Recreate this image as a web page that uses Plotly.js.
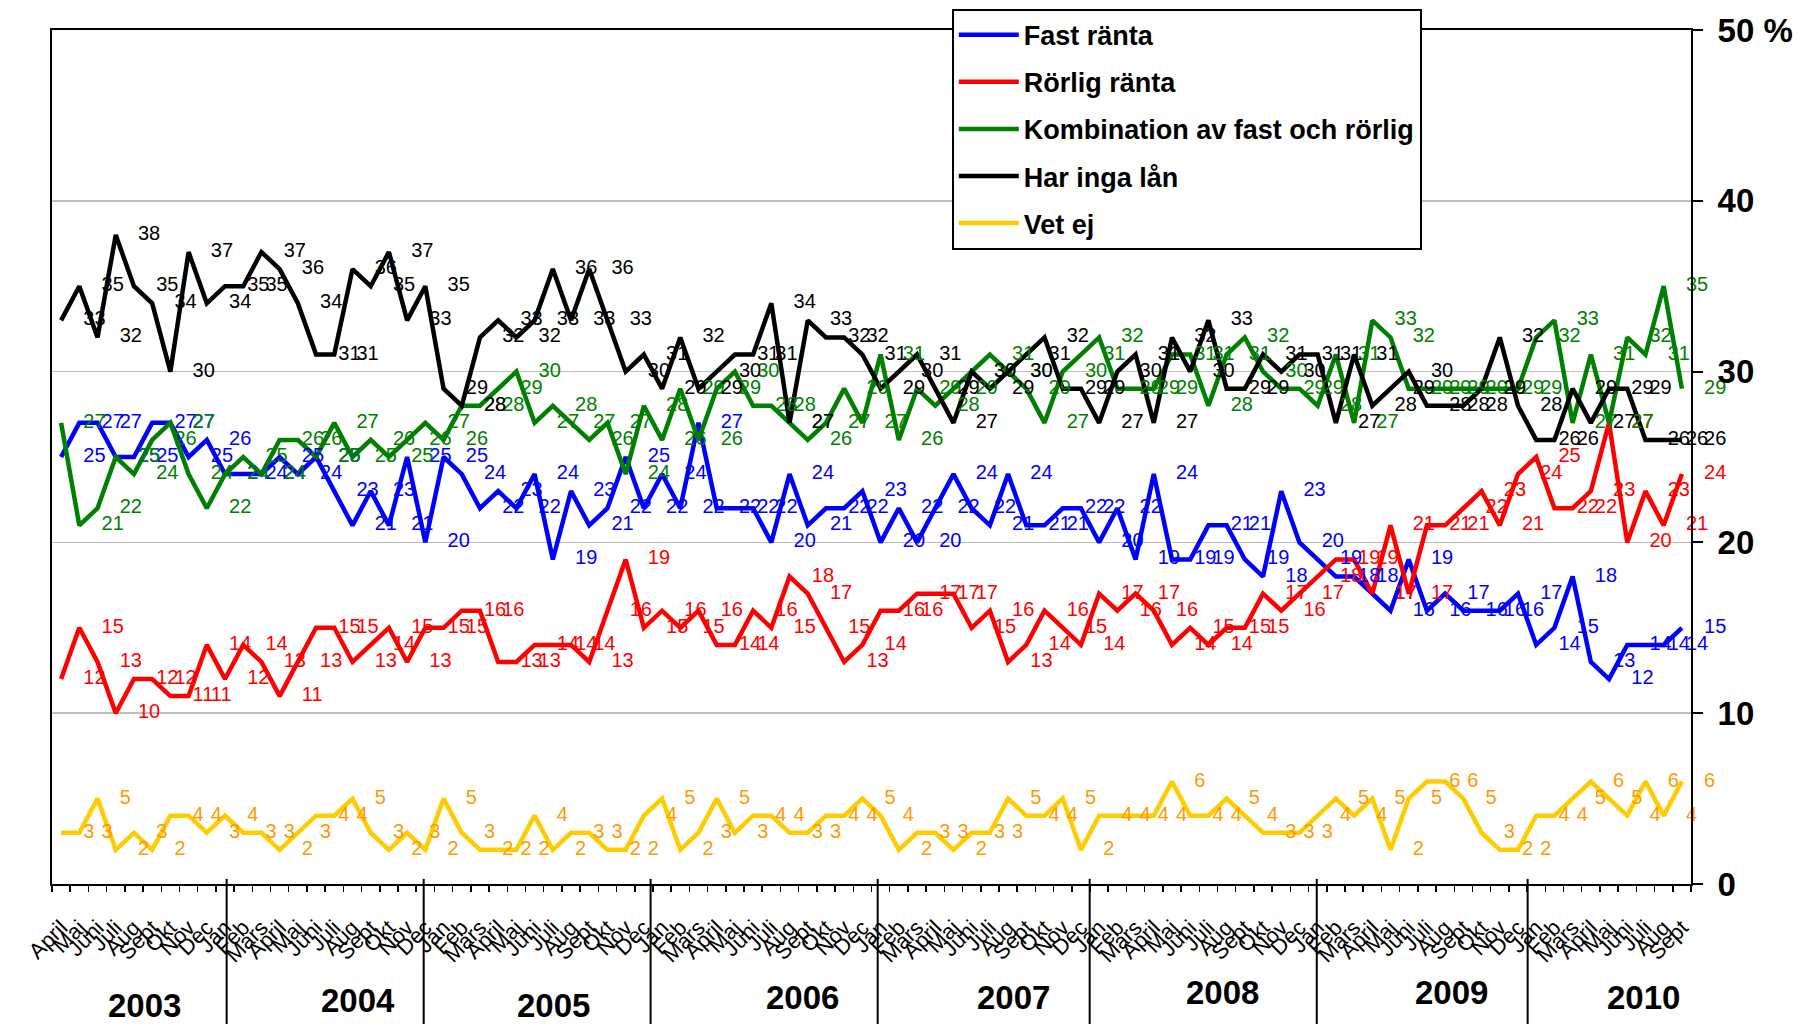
<!DOCTYPE html>
<html><head><meta charset="utf-8">
<script src="https://cdn.plot.ly/plotly-3.0.1.min.js"></script>
<style>html,body{margin:0;padding:0;background:#fff;} #chart{width:1798px;height:1024px;}</style>
</head><body><div id="chart"></div>
<script>
// Month tick labels, April 2003 .. Sept 2010
const monthLabels = [
 'April','Maj','Juni','Juli','Aug','Sept','Okt','Nov','Dec',
 'Jan','Feb','Mars','April','Maj','Juni','Juli','Aug','Sept','Okt','Nov','Dec',
 'Jan','Feb','Mars','April','Maj','Juni','Juli','Aug','Sept','Okt','Nov','Dec',
 'Jan','Feb','Mars','April','Maj','Juni','Juli','Aug','Sept','Okt','Nov','Dec',
 'Jan','Feb','Mars','April','Maj','Juni','Juli','Aug','Sept','Okt','Nov','Dec',
 'Jan','Feb','Mars','April','Maj','Juni','Juli','Aug','Sept','Okt','Nov','Dec',
 'Jan','Feb','Mars','April','Maj','Juni','Juli','Aug','Sept','Okt','Nov','Dec',
 'Jan','Feb','Mars','April','Maj','Juni','Juli','Aug','Sept'
];
const yearLabels = ['2003','2004','2005','2006','2007','2008','2009','2010'];

const fastRanta = [
 25,27,27,25,25,27,27,25,26,24,24,24,25,24,25,23,21,23,21,25,20,25,24,
 22,23,22,24,19,23,21,22,25,22,24,22,27,22,22,22,20,24,21,22,
 22,23,20,22,20,22,24,22,21,24,21,21,22,22,20,22,19,24,19,19,21,21,
 19,18,23,20,19,18,18,17,16,19,16,17,16,16,16,17,14,15,18,13,12,14,14,14,15
];
const rorligRanta = [
 12,15,13,10,12,12,11,11,14,12,14,13,11,13,15,15,13,14,15,13,15,15,16,
 16,13,13,14,14,14,13,16,19,15,16,15,16,14,14,16,15,18,17,15,
 13,14,16,16,17,17,17,15,16,13,14,16,15,14,17,16,17,16,14,15,14,15,
 15,17,16,17,18,19,19,17,21,17,21,21,22,23,21,24,25,22,22,23,27,20,23,21,24
];
const kombination = [
 27,21,22,25,24,26,27,24,22,24,25,24,26,26,25,27,25,26,25,26,27,26,28,
 28,29,30,27,28,27,26,27,24,28,26,29,26,29,30,28,28,27,26,27,
 29,27,31,26,29,28,29,30,31,30,29,27,30,31,32,29,29,29,31,31,28,31,
 32,30,29,29,28,31,27,33,32,29,29,29,29,29,29,29,32,33,27,31,27,32,31,35,29
];
const ingaLan = [
 33,35,32,38,35,34,30,37,34,35,35,37,36,34,31,31,36,35,37,33,35,29,28,
 32,33,32,33,36,33,36,33,30,31,29,32,29,30,31,31,34,27,33,32,
 32,31,29,30,31,29,27,30,29,30,31,32,29,29,27,30,31,27,32,30,33,29,
 29,31,30,31,31,27,31,28,29,30,28,28,28,29,32,28,26,26,29,27,29,29,26,26,26
];
const vetEj = [
 3,3,5,2,3,2,4,4,3,4,3,3,2,3,4,4,5,3,2,3,2,5,3,
 2,2,2,4,2,3,3,2,2,4,5,2,3,5,3,4,4,3,3,4,
 4,5,4,2,3,3,2,3,3,5,4,4,5,2,4,4,4,4,6,4,4,5,
 4,3,3,3,4,5,4,5,2,5,6,6,5,3,2,2,4,4,5,6,5,4,6,4,6
];

const seriesNames = ['Fast ränta','Rörlig ränta','Kombination av fast och rörlig','Har inga lån','Vet ej'];
const seriesValues = [fastRanta, rorligRanta, kombination, ingaLan, vetEj];
const lineColors = ['#0000FF','#FF0000','#008000','#000000','#FFCC00'];
const textColors = ['#0000FF','#FF0000','#008000','#000000','#FF9900'];

const keys = monthLabels.map((m,i)=>'c'+i);
const NB = '\u00a0\u00a0\u00a0\u00a0';
const FONT = 'Liberation Sans, Arial, sans-serif';

const traces = [];
seriesValues.forEach((vals, k) => {
  traces.push({
    type:'scatter', mode:'lines', name: seriesNames[k], x: keys, y: vals,
    line:{color: lineColors[k], width:4.5}, legendgroup:'g'+k, hoverinfo:'skip'
  });
});
seriesValues.forEach((vals, k) => {
  traces.push({
    type:'scatter', mode:'text', x: keys, y: vals, showlegend:false,
    text: vals.map(v => NB + v), textposition:'middle right', cliponaxis:false,
    textfont:{family: FONT, size:20, color: textColors[k]}, hoverinfo:'skip'
  });
});

// decorative year separators and year captions (category-index positions)
const sepPos = [9.09, 19.91, 32.37, 44.84, 56.48, 68.95, 80.53];
const yearPos = [4.56, 16.28, 27.05, 40.71, 52.3, 63.76, 76.35, 86.87];
const yearY = [-0.142, -0.136, -0.142, -0.133, -0.133, -0.127, -0.127, -0.133];

const shapes = sepPos.map(p => ({type:'line', xref:'x', yref:'paper', x0:p, x1:p, y0:0.006, y1:-0.17,
  line:{color:'#000', width:2}}));
const annotations = yearLabels.map((t,i) => ({xref:'x', yref:'paper', x: yearPos[i], y: yearY[i],
  text: t, showarrow:false, xanchor:'center', yanchor:'middle',
  font:{family: FONT, size:33, weight:'bold', color:'#000'}}));

const layout = {
  width:1798, height:1024,
  margin:{l:52, r:107, t:30, b:140, pad:0, autoexpand:false},
  paper_bgcolor:'#fff', plot_bgcolor:'#fff',
  showlegend:true,
  xaxis:{type:'category', range:[-0.5, 89.5], tickmode:'array', tickvals: keys, ticktext: monthLabels,
    tickangle:-45, tickfont:{family: FONT, size:22, color:'#000'}, ticks:'outside', tickson:'boundaries',
    ticklen:6, tickwidth:1.5, tickcolor:'#000', showline:true, linecolor:'#000', linewidth:2, mirror:true,
    showgrid:false, zeroline:false, ticklabelstandoff:20, fixedrange:true, automargin:false},
  yaxis:{side:'right', range:[0,50], tickmode:'array', tickvals:[0,10,20,30,40,50],
    ticktext:['0','10','20','30','40','50 %'],
    tickfont:{family: FONT, size:33, weight:'bold', color:'#000'}, ticks:'outside', ticklen:10, tickwidth:2,
    tickcolor:'#000', showline:true, linecolor:'#000', linewidth:2, mirror:true,
    showgrid:true, gridcolor:'#BFBFBF', gridwidth:1.5, zeroline:false, ticklabelstandoff:8, fixedrange:true,
    automargin:false},
  legend:{x:0.549, y:1.025, xanchor:'left', yanchor:'top', bgcolor:'#fff', bordercolor:'#000', borderwidth:2,
    font:{family: FONT, size:27, weight:'bold', color:'#000'}, tracegroupgap:9, itemwidth:60},
  shapes: shapes, annotations: annotations
};

Plotly.newPlot('chart', traces, layout, {displayModeBar:false, staticPlot:true});
</script></body></html>
